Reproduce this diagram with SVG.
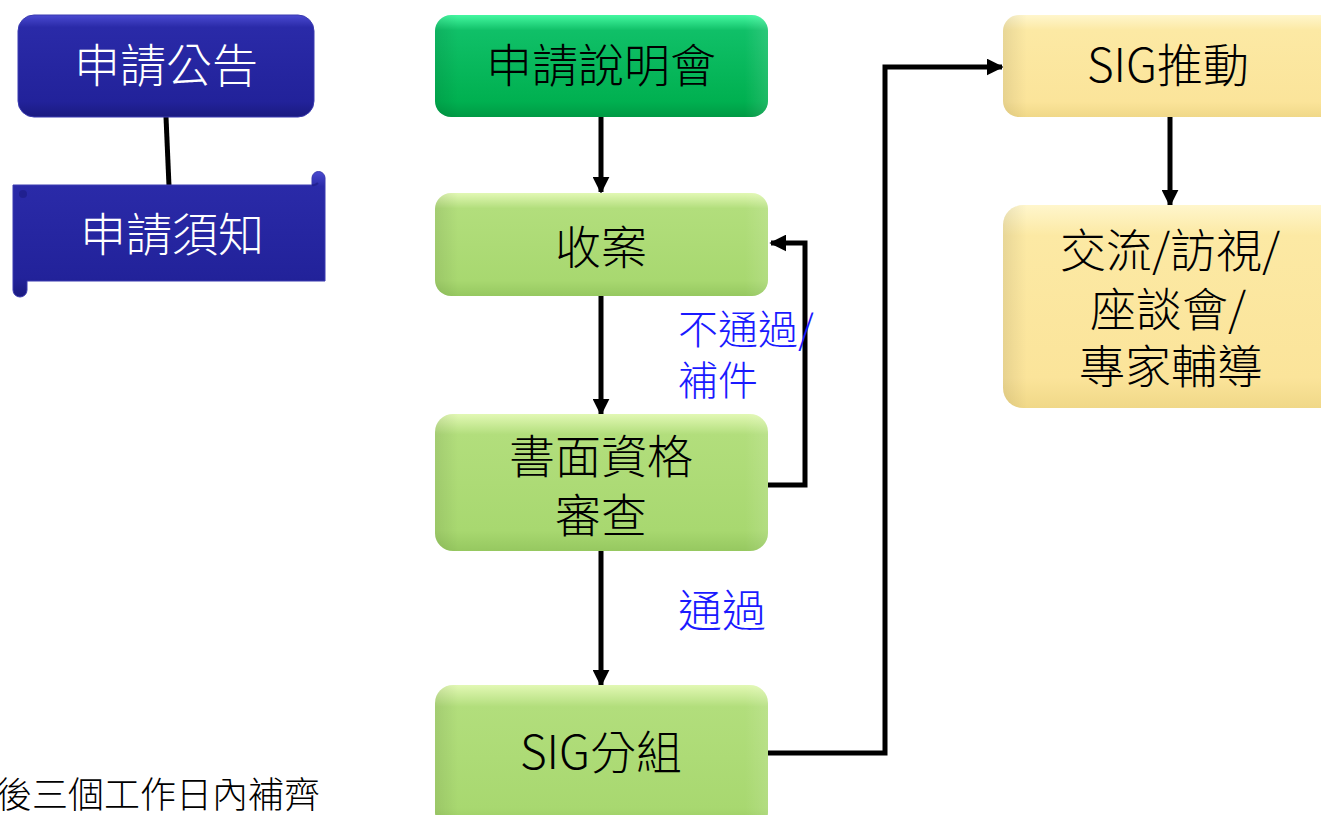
<svg xmlns="http://www.w3.org/2000/svg" width="1321" height="815" viewBox="0 0 1321 815">
<style>
.t{font-family:"Microsoft JhengHei","Noto Sans CJK TC","Noto Sans",sans-serif;font-size:46px;font-weight:300;text-anchor:middle}
.w{fill:#ffffff}
.k{fill:#000000}
.lbl{font-family:"Noto Sans CJK TC","Noto Sans",sans-serif;font-size:40px;font-weight:300;fill:#1a1aff}
.note{font-family:"Noto Sans CJK TC","Noto Sans",sans-serif;font-size:36px;font-weight:300;fill:#000}
.c{fill:none;stroke:#000;stroke-width:5;stroke-linejoin:miter}
</style>
<defs>
<linearGradient id="gBlue" x1="0" y1="0" x2="0" y2="1">
<stop offset="0" stop-color="#4a4ad0"/><stop offset="0.12" stop-color="#2a2aa8"/><stop offset="0.85" stop-color="#22229a"/><stop offset="1" stop-color="#1a1a80"/>
</linearGradient>
<linearGradient id="gGreen" x1="0" y1="0" x2="0" y2="1">
<stop offset="0" stop-color="#44f7a0"/><stop offset="0.15" stop-color="#10c068"/><stop offset="0.85" stop-color="#00b050"/><stop offset="1" stop-color="#009a44"/>
</linearGradient>
<linearGradient id="gLight" x1="0" y1="0" x2="0" y2="1">
<stop offset="0" stop-color="#e2f8b4"/><stop offset="0.15" stop-color="#b2de7c"/><stop offset="0.85" stop-color="#a8d870"/><stop offset="1" stop-color="#96c860"/>
</linearGradient>
<linearGradient id="gYellow" x1="0" y1="0" x2="0" y2="1">
<stop offset="0" stop-color="#fff6cc"/><stop offset="0.15" stop-color="#fce9a4"/><stop offset="0.85" stop-color="#fbe49a"/><stop offset="1" stop-color="#f0d888"/>
</linearGradient>
<linearGradient id="side" x1="0" y1="0" x2="1" y2="0">
<stop offset="0" stop-color="#000" stop-opacity="0.08"/><stop offset="0.07" stop-color="#000" stop-opacity="0"/><stop offset="0.93" stop-color="#fff" stop-opacity="0"/><stop offset="1" stop-color="#fff" stop-opacity="0.12"/>
</linearGradient>
<marker id="ah" viewBox="0 0 10 10" refX="9" refY="5" markerWidth="3.4" markerHeight="3.4" orient="auto" markerUnits="strokeWidth">
<path d="M0,0 L10,5 L0,10 z" fill="#000"/>
</marker>
</defs>
<rect width="1321" height="815" fill="#ffffff"/>

<g id="connectors">
<line class="c" x1="166" y1="117" x2="169" y2="186"/>
<line class="c" x1="601" y1="117" x2="601" y2="192" marker-end="url(#ah)"/>
<line class="c" x1="601" y1="296" x2="601" y2="414" marker-end="url(#ah)"/>
<line class="c" x1="601" y1="551" x2="601" y2="685" marker-end="url(#ah)"/>
<polyline class="c" points="768,485 805,485 805,243 771,243" marker-end="url(#ah)"/>
<polyline class="c" points="768,753 885,753 885,67 1002,67" marker-end="url(#ah)"/>
<line class="c" x1="1170" y1="117" x2="1170" y2="205" marker-end="url(#ah)"/>
</g>

<g id="n-announce">
<rect x="18" y="15" width="296" height="102" rx="16" fill="url(#gBlue)" stroke="#3a3ab0" stroke-width="1"/>
<text class="t w" x="166" y="82">申請公告</text>
</g>

<g id="n-notice">
<path d="M13,185 L312,185 L312,178 A6.5,6.5 0 0 1 325,178 L325,281 L27,281 L27,290 A7,7 0 0 1 13,290 Z" fill="url(#gBlue)" stroke="#3a3ab0" stroke-width="1"/>
<circle cx="23" cy="194" r="4" fill="#1a1a80" opacity="0.6"/>
<path d="M312,185 A6.5,6.5 0 0 0 318,183" fill="none" stroke="#1a1a80" stroke-width="2" opacity="0.6"/>
<text class="t w" x="172" y="251">申請須知</text>
</g>

<g id="n-briefing">
<rect x="435" y="15" width="333" height="102" rx="16" fill="url(#gGreen)"/>
<rect x="435" y="15" width="333" height="102" rx="16" fill="url(#side)"/>
<text class="t k" x="601" y="82">申請說明會</text>
</g>

<g id="n-receive">
<rect x="435" y="193" width="333" height="103" rx="16" fill="url(#gLight)"/>
<rect x="435" y="193" width="333" height="103" rx="16" fill="url(#side)"/>
<text class="t k" x="601" y="264">收案</text>
</g>

<g id="n-review">
<rect x="435" y="414" width="333" height="137" rx="18" fill="url(#gLight)"/>
<rect x="435" y="414" width="333" height="137" rx="18" fill="url(#side)"/>
<text class="t k" x="601" y="473">書面資格</text>
<text class="t k" x="601" y="532">審查</text>
</g>

<g id="n-group">
<rect x="435" y="685" width="333" height="145" rx="18" fill="url(#gLight)"/>
<rect x="435" y="685" width="333" height="145" rx="18" fill="url(#side)"/>
<text class="t k" x="601" y="769">SIG分組</text>
</g>

<g id="n-promote">
<rect x="1003" y="15" width="340" height="102" rx="16" fill="url(#gYellow)"/>
<rect x="1003" y="15" width="340" height="102" rx="16" fill="url(#side)"/>
<text class="t k" x="1168" y="82">SIG推動</text>
</g>

<g id="n-activities">
<rect x="1003" y="205" width="340" height="203" rx="20" fill="url(#gYellow)"/>
<rect x="1003" y="205" width="340" height="203" rx="20" fill="url(#side)"/>
<text class="t k" x="1170" y="267">交流/訪視/</text>
<text class="t k" x="1168" y="326">座談會/</text>
<text class="t k" x="1171" y="383">專家輔導</text>
</g>

<g id="labels">
<text class="lbl" x="678" y="344">不通過/</text>
<text class="lbl" x="678" y="395">補件</text>
<text class="lbl" x="678" y="627" style="font-size:44px">通過</text>
<text class="note" x="-4" y="808">後三個工作日內補齊</text>
</g>
</svg>
